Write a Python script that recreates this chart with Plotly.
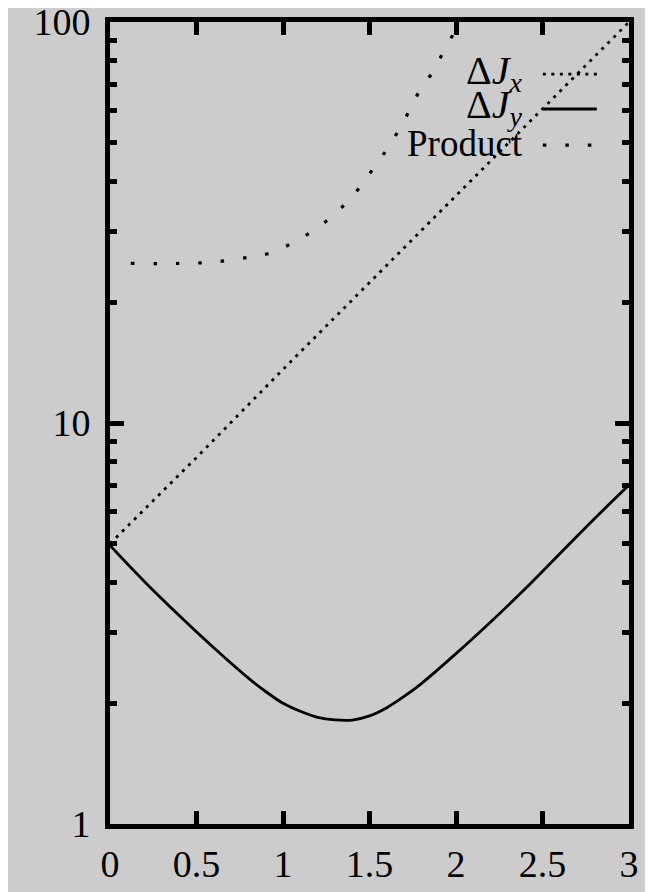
import plotly.graph_objects as go

# ---- data ----
x_jx = [0.0, 0.5, 1.0, 1.5, 2.0, 2.5, 3.0]
jx = [5.0, 8.2, 13.6, 22.4, 37.0, 61.0, 100.0]

x_jy = [0.0, 0.2, 0.4, 0.6, 0.8, 0.9, 1.0, 1.1, 1.2, 1.3, 1.4, 1.5, 1.6, 1.7, 1.8,
        2.0, 2.2, 2.4, 2.6, 2.8, 3.0]
jy = [4.95, 4.02, 3.31, 2.75, 2.31, 2.14, 2.0, 1.91, 1.845, 1.818, 1.816, 1.86,
      1.95, 2.08, 2.24, 2.66, 3.19, 3.86, 4.72, 5.77, 7.0]

x_prod = [0.12, 0.4, 0.6, 0.8, 0.92, 1.04, 1.15, 1.26, 1.36, 1.45, 1.52,
          1.6, 1.67, 1.73, 1.79, 1.87, 1.93, 2.0, 2.05]
prod = [25.0, 25.0, 25.2, 25.9, 26.5, 27.9, 29.7, 32.1, 35.2, 39.0, 43.0,
        48.1, 53.8, 60.1, 67.4, 75.6, 84.7, 96.0, 106.0]

x_ticks = [0, 0.5, 1, 1.5, 2, 2.5, 3]
x_ticktext = ["0", "0.5", "1", "1.5", "2", "2.5", "3"]
y_ticks = [1, 10, 100]
y_ticktext = ["1", "10", "100"]
y_minor = [2, 3, 4, 5, 6, 7, 8, 9, 20, 30, 40, 50, 60, 70, 80, 90]

legend_names = ["Δ<i>J</i><sub><i>x</i></sub>", "Δ<i>J</i><sub><i>y</i></sub>", "Product"]

BG = "#cccccc"
FONT = "Liberation Serif"
JX_DASH = "3px,5.5px"
PROD_DASH = "3.5px,19px"

fig = go.Figure()
fig.add_trace(go.Scatter(x=x_jx, y=jx, mode="lines", name=legend_names[0],
                         line=dict(color="black", width=2.8, dash=JX_DASH)))
fig.add_trace(go.Scatter(x=x_jy, y=jy, mode="lines", name=legend_names[1],
                         line=dict(color="black", width=2.8, shape="spline")))
fig.add_trace(go.Scatter(x=x_prod, y=prod, mode="lines", name=legend_names[2],
                         line=dict(color="black", width=3.2, dash=PROD_DASH, shape="spline")))

# manual gnuplot-style key (text right-aligned, sample on the right)
key_rows = [(0.935, JX_DASH, 2.8, 40), (0.8915, "solid", 2.8, 40), (0.8466, PROD_DASH, 3.2, 37)]
for name, (ky, dash, w, fs) in zip(legend_names, key_rows):
    fig.add_annotation(xref="paper", yref="paper", x=0.80, y=ky + 0.002, text=name,
                       showarrow=False, xanchor="right", yanchor="middle",
                       font=dict(family=FONT, size=fs, color="black"))
    fig.add_shape(type="line", xref="paper", yref="paper", x0=0.834, x1=0.938,
                  y0=ky, y1=ky, line=dict(color="black", width=w, dash=dash))

fig.add_annotation(xref="paper", yref="paper", x=0.49, y=-0.062, text="<i>x</i>",
                   showarrow=False, xanchor="center", yanchor="top",
                   font=dict(family=FONT, size=38, color="black"))

axis_common = dict(showline=True, linecolor="black", linewidth=5, mirror="ticks",
                   ticks="inside", tickcolor="black", tickwidth=5, showgrid=False,
                   zeroline=False, automargin=False, ticklabeloverflow="allow",
                   tickfont=dict(family=FONT, size=38, color="black"))

fig.update_xaxes(range=[0, 3], tickvals=x_ticks, ticktext=x_ticktext, ticklen=13,
                 ticklabelstandoff=2, **axis_common)
fig.update_yaxes(type="log", range=[0, 2], tickvals=y_ticks, ticktext=y_ticktext,
                 ticklen=14, ticklabelstandoff=7,
                 minor=dict(tickvals=y_minor, ticks="inside", ticklen=7, tickwidth=5,
                            tickcolor="black", showgrid=False),
                 **axis_common)

# the page body adds an 8px offset, so the figure is sized to end at the window edge
fig.update_layout(width=645, height=884, paper_bgcolor=BG, plot_bgcolor=BG,
                  showlegend=False,
                  margin=dict(l=102, r=24, t=14, b=68))

fig.write_html("out.html")
